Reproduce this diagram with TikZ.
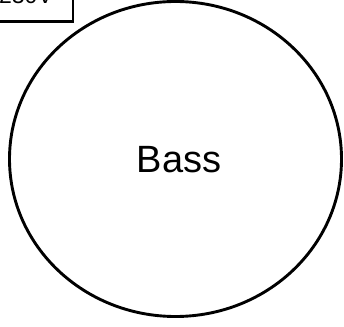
\documentclass[tikz,border=0pt]{standalone}
\usepackage{fontspec}
\setmainfont{Liberation Sans}
\usetikzlibrary{shapes.geometric}
\begin{document}
\begin{tikzpicture}[x=1pt,y=1pt,
  outline/.style={draw=black, line width=2.9pt},
  bigcircle/.style={outline, ellipse, minimum width=332pt, minimum height=315pt, inner sep=0pt},
  voltbox/.style={outline, rectangle, minimum width=94pt, minimum height=52pt, inner sep=0pt, font=\fontsize{23}{26}\selectfont}]
\useasboundingbox (0,0) rectangle (344,326);
\clip (0,0) rectangle (344,326);
\node[voltbox] (volt) at (26,330.2) {230V};
\node[bigcircle] (bass) at (175.5,167) {};
\node[font=\fontsize{38}{44}\selectfont, anchor=base, inner sep=0pt] (basslabel) at (179,153) {Bass};
\end{tikzpicture}
\end{document}
